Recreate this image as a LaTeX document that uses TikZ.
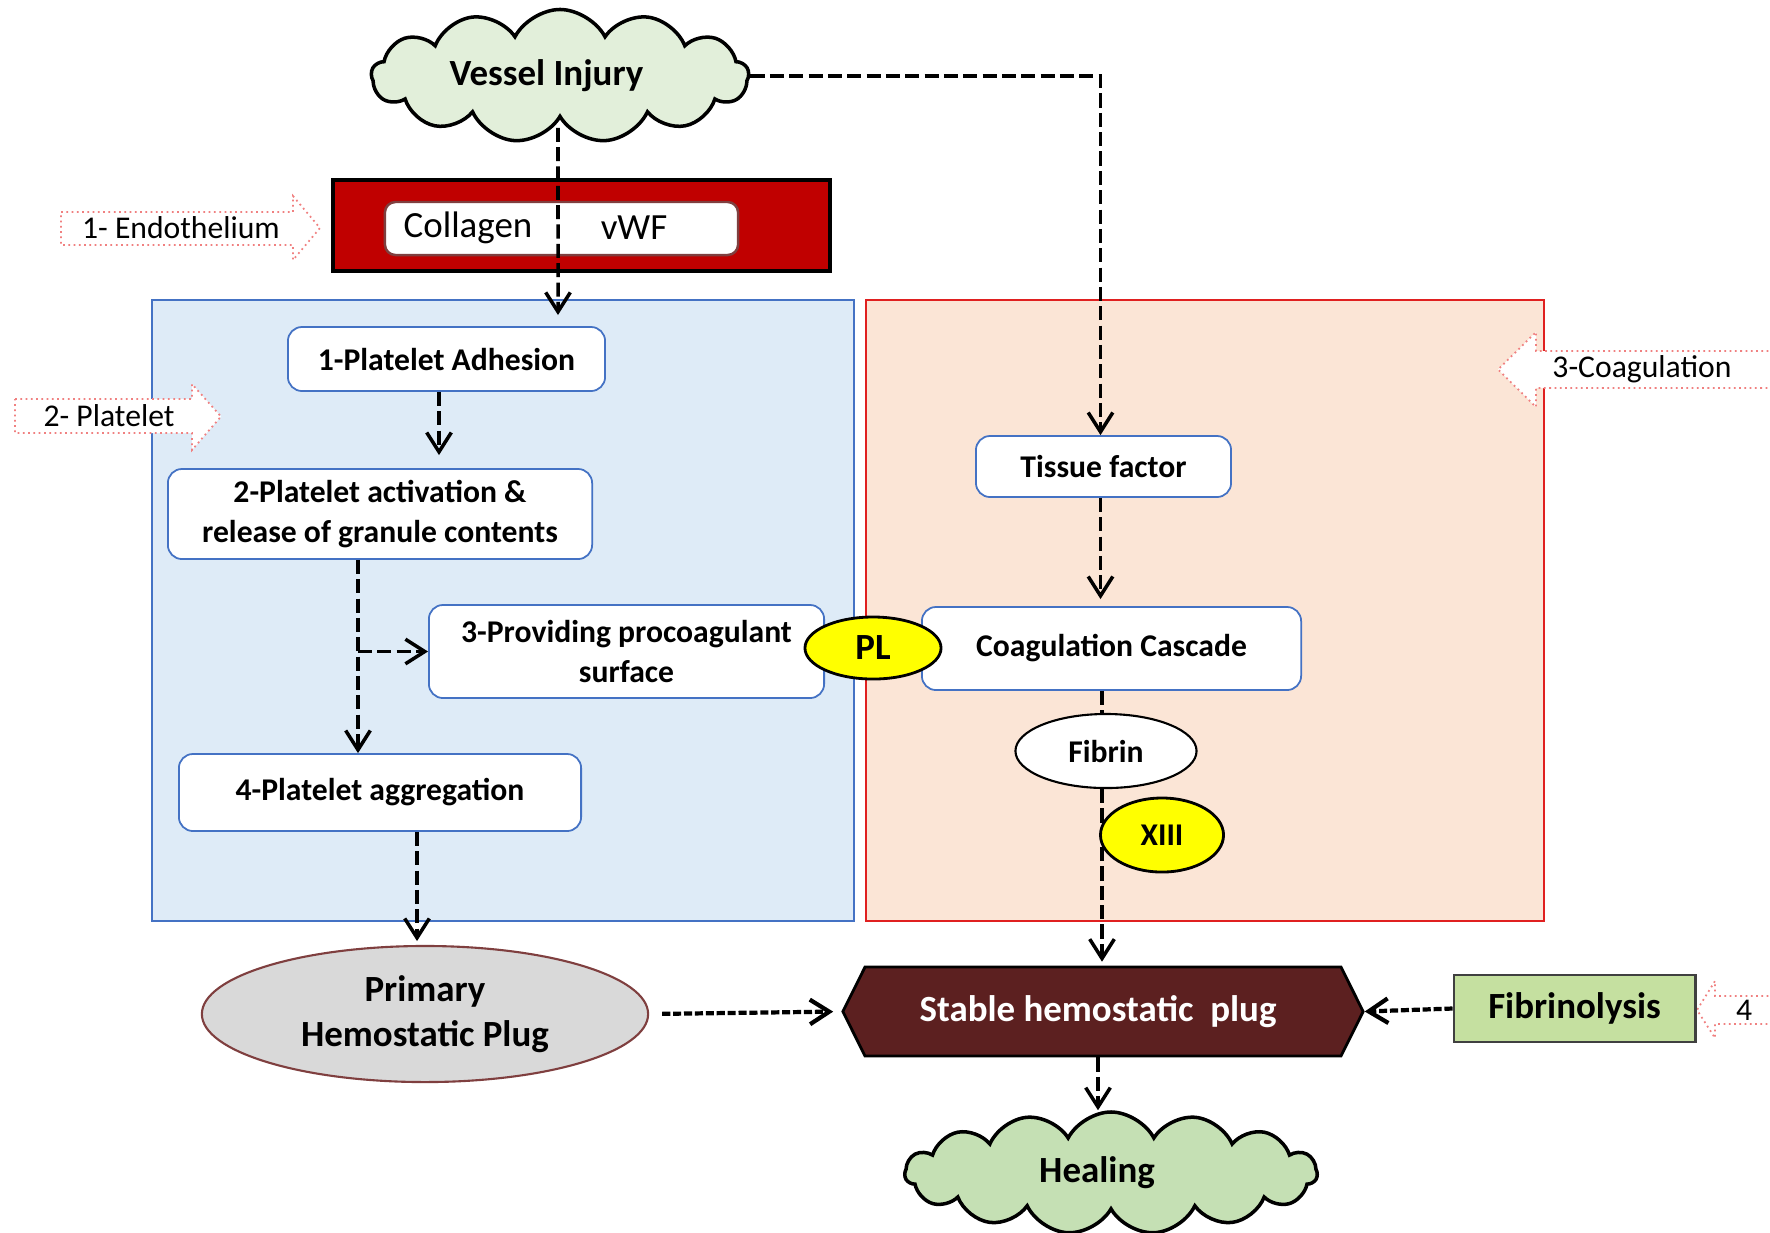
\documentclass[tikz,border=0pt]{standalone}
\usepackage{fontspec}
\setmainfont{Carlito}
\usepackage{xcolor}
\usepackage{tikz}
\usetikzlibrary{arrows.meta, positioning, calc, shapes.geometric, shapes.symbols}
\definecolor{hred}{HTML}{C00000}
\definecolor{hblue}{HTML}{4472C4}
\definecolor{hbluepale}{HTML}{DEEBF7}
\definecolor{hpeach}{HTML}{FBE5D6}
\definecolor{hpeachline}{HTML}{E02020}
\definecolor{hyellow}{HTML}{FFFF00}
\definecolor{hgray}{HTML}{D9D9D9}
\definecolor{hplug}{HTML}{5C2020}
\definecolor{hlime}{HTML}{C5E0A0}
\definecolor{hcloud}{HTML}{E2EFDA}
\definecolor{hheal}{HTML}{C5E0B4}
\definecolor{hpink}{HTML}{F08080}
\definecolor{hbrown}{HTML}{7F3F3F}

\tikzset{
  stepbox/.style={draw=hblue, line width=0.5pt, fill=white, rounded corners=4pt,
    font=\fontsize{9}{11.3}\selectfont\bfseries, align=center, inner sep=0pt},
  flowline/.style={draw=black, line width=1pt, dash pattern=on 4pt off 1.5pt},
  flow/.style={flowline, -{Straight Barb[length=5.5pt,width=7pt]}},
  dense/.style={line width=1.2pt, dash pattern=on 2.3pt off 0.8pt},
  hollow/.style={draw=hpink, densely dotted, line width=0.5pt, fill=white},
  sidelabel/.style={font=\fontsize{9}{11}\selectfont, inner sep=0pt},
  factor/.style={ellipse, draw=black, line width=0.8pt, fill=hyellow,
    font=\fontsize{9}{11}\selectfont\bfseries, inner sep=0pt},
  puff/.style={cloud, cloud puffs=13, cloud puff arc=125, cloud ignores aspect,
    draw=black, line width=1pt, inner sep=0pt,
    font=\fontsize{10.5}{12}\selectfont\bfseries},
}

\begin{document}
\begin{tikzpicture}[x=0.01cm, y=-0.01cm]

  \useasboundingbox (0,0) rectangle (1770,1232);
  \clip (0,0) rectangle (1770,1232);

  %% Panels
  \node[draw=hblue, line width=0.6pt, fill=hbluepale, minimum width=7.02cm,
    minimum height=6.21cm] (platpanel) at (503,610.5) {};
  \node[draw=hpeachline, line width=0.6pt, fill=hpeach, minimum width=6.78cm,
    minimum height=6.21cm] (coagpanel) at (1205,610.5) {};

  %% Side arrows
  \draw[hollow] (61,212) -- (293,212) -- (293,196) -- (320,228) -- (293,260)
    -- (293,245) -- (61,245) -- cycle;
  \node[sidelabel] (endolab) at (181,228) {1- Endothelium};
  \draw[hollow] (15,399) -- (192,399) -- (192,384) -- (221,416.5) -- (192,450)
    -- (192,433) -- (15,433) -- cycle;
  \node[sidelabel] (platlab) at (109,416) {2- Platelet};
  \draw[hollow] (1800,351) -- (1536,351) -- (1536,332) -- (1498,369.5) -- (1536,407)
    -- (1536,388) -- (1800,388) -- cycle;
  \node[sidelabel] (coaglab) at (1642,369) {3-Coagulation};
  \draw[hollow] (1800,996) -- (1715,996) -- (1715,981) -- (1697,1010) -- (1715,1038)
    -- (1715,1024) -- (1800,1024) -- cycle;
  \node[sidelabel] (fourlab) at (1744,1010) {4};

  %% Injury and endothelium
  \node[puff, fill=hcloud, minimum width=3.77cm, minimum height=1.33cm]
    (injury) at (560,76) {Vessel Injury\hspace*{0.27cm}};
  \node[draw=black, line width=1pt, fill=hred, minimum width=4.97cm,
    minimum height=0.91cm] (endo) at (581.5,225.5) {};
  \node[draw=hbrown, line width=0.7pt, fill=white, rounded corners=3pt,
    minimum width=3.53cm, minimum height=0.53cm] (matrix) at (561.5,228.5) {};
  \node[font=\fontsize{10.5}{12}\selectfont, inner sep=0pt] (collagen) at (468,228) {Collagen};
  \node[font=\fontsize{10.5}{12}\selectfont, inner sep=0pt] (vwf) at (634,228) {vWF};

  %% Platelet steps
  \node[stepbox, minimum width=3.17cm, minimum height=0.64cm] (adh) at (446.5,359)
    {1-Platelet Adhesion};
  \node[stepbox, minimum width=4.24cm, minimum height=0.90cm] (act) at (380,514)
    {2-Platelet activation \&\\release of granule contents};
  \node[stepbox, minimum width=3.95cm, minimum height=0.93cm] (proc) at (626.5,651.5)
    {3-Providing procoagulant\\surface};
  \node[stepbox, minimum width=4.02cm, minimum height=0.77cm] (aggr) at (380,792.5)
    {4-Platelet aggregation};

  %% Coagulation steps
  \node[stepbox, minimum width=2.55cm, minimum height=0.61cm] (tissue) at (1103.5,466.5)
    {Tissue factor};
  \node[stepbox, minimum width=3.79cm, minimum height=0.83cm] (cascade) at (1111.5,648.5)
    {Coagulation Cascade};
  \node[ellipse, draw=black, line width=0.6pt, fill=white, inner sep=0pt,
    font=\fontsize{9}{11}\selectfont\bfseries, minimum width=1.81cm,
    minimum height=0.74cm] (fibrin) at (1106,751) {Fibrin};

  %% Outcome
  \node[ellipse, draw=hbrown, line width=0.6pt, fill=hgray, inner sep=0pt, align=center,
    font=\fontsize{10.5}{12.8}\selectfont\bfseries, minimum width=4.46cm,
    minimum height=1.36cm] (primary) at (425,1014) {Primary\\Hemostatic Plug};
  \node[signal, signal to=west and east, signal pointer angle=127, draw=black,
    line width=0.8pt, fill=hplug, text=white, inner sep=0pt,
    font=\fontsize{10.5}{12}\selectfont\bfseries, minimum width=5.2cm,
    minimum height=0.89cm] (stable) at (1103,1011.5) {Stable hemostatic\ \ plug\hspace*{0.1cm}};
  \node[draw=black!75, line width=0.8pt, fill=hlime, inner sep=0pt,
    font=\fontsize{10.5}{12}\selectfont\bfseries, minimum width=2.41cm,
    minimum height=0.67cm] (fibrinolysis) at (1574.5,1008.5) {Fibrinolysis};
  \node[puff, cloud puffs=15, fill=hheal, minimum width=4.12cm, minimum height=1.22cm]
    (healing) at (1111,1173) {Healing\hspace*{0.28cm}};

  %% Connectors
  \draw[flow] (injury.east) -| ([xshift=-0.03cm]tissue.north);
  \coordinate (adhin) at (558,315);
  \draw[flow, shorten <=2.3pt] ([xshift=-0.02cm]injury.south) -- (adhin);
  \draw[flow, shorten >=3.7pt] ([xshift=-0.075cm]adh.south)
    -- ([xshift=-0.075cm]adh.south |- act.north);
  \draw[flow] ([xshift=-0.22cm]act.south) -- ([xshift=-0.22cm]act.south |- aggr.north);
  \draw[flow] ([xshift=-0.22cm]act.south |- proc.west) -- (proc.west);
  \draw[flow, shorten >=1.1pt] ([xshift=0.37cm]aggr.south)
    -- ([xshift=0.37cm]aggr.south |- primary.north);
  \draw[flow, shorten >=2pt] ([xshift=-0.03cm]tissue.south)
    -- ([xshift=-0.03cm]tissue.south |- cascade.north);
  \draw[flowline] ([xshift=-0.04cm]fibrin.north |- cascade.south) -- ([xshift=-0.04cm]fibrin.north);
  \draw[flow, shorten >=1.1pt] ([xshift=-0.04cm]fibrin.south)
    -- ([xshift=-0.04cm]fibrin.south |- stable.north);
  \draw[flow, dense, shorten <=3.7pt, shorten >=2.3pt] (primary.east) -- (stable.west);
  \draw[flow, dense] (fibrinolysis.west) -- (stable.east);
  \draw[flow] ([xshift=-0.05cm]stable.south) -- ([xshift=-0.05cm]stable.south |- healing.north);

  %% Factors
  \node[factor, font=\fontsize{10.5}{12}\selectfont\bfseries, minimum width=1.36cm,
    minimum height=0.62cm] (pl) at (873,648) {PL};
  \node[factor, minimum width=1.23cm, minimum height=0.74cm] (xiii) at (1162,835) {XIII};

\end{tikzpicture}
\end{document}
